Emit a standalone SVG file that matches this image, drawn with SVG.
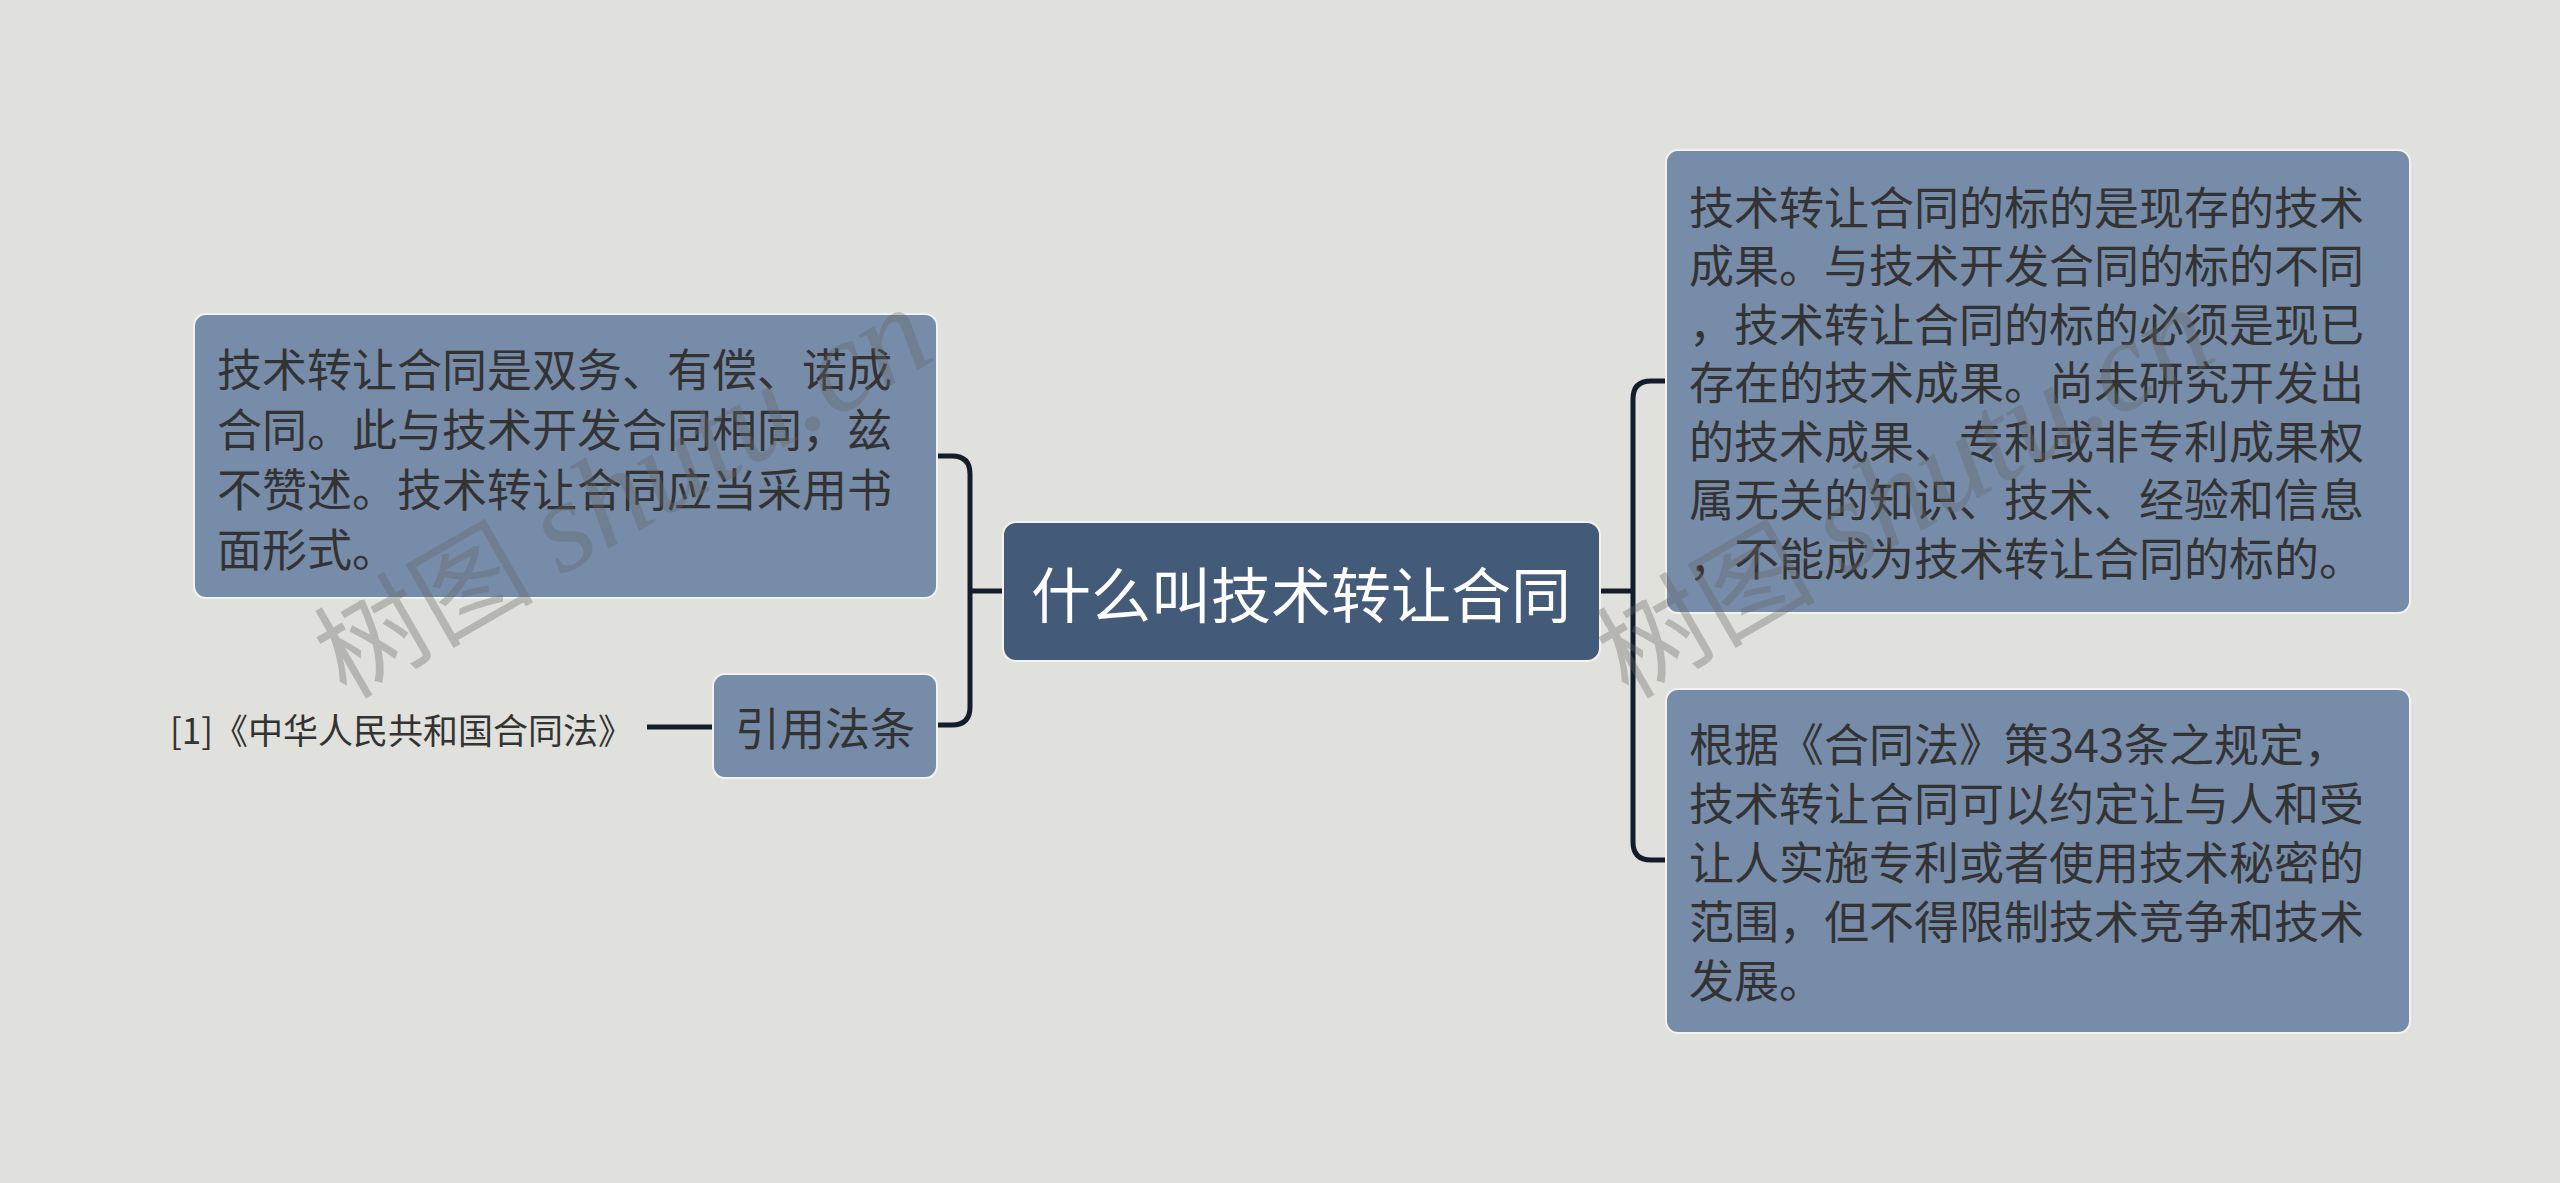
<svg xmlns="http://www.w3.org/2000/svg" width="2560" height="1183" viewBox="0 0 2560 1183">
<style>
.node{fill:#778ca9;stroke:#f2f3f0;stroke-width:2}
.root{fill:#435a79;stroke:#f2f3f0;stroke-width:2}
.t{font-family:"Noto Sans CJK SC","Noto Sans",sans-serif;font-size:45px;fill:#333333;dominant-baseline:central}
.rt{font-family:"Noto Sans CJK SC","Noto Sans",sans-serif;font-size:60px;fill:#ffffff;dominant-baseline:central;text-anchor:middle}
.link{fill:none;stroke:#141d2b;stroke-width:5;stroke-linecap:butt}
.wm{font-family:"Liberation Serif","Noto Sans CJK SC",serif;font-size:110px;fill:#646464;fill-opacity:0.35}
.wm tspan{font-size:130px;font-style:italic}
</style>
<rect width="2560" height="1183" fill="#e0e1dc"/>
<g id="connectors">
<path class="link" d="M1003,591 H970 M937,456 H952 Q970,456 970,474 V707 Q970,725 952,725 H937"/>
<path class="link" d="M713,727 H647"/>
<path class="link" d="M1601,591 H1633 M1666,381 H1651 Q1633,381 1633,399 V842 Q1633,860 1651,860 H1666"/>
</g>
<g id="root">
<rect class="root" x="1003" y="522" width="597" height="139" rx="13"/>
<text class="rt" x="1301" y="591">什么叫技术转让合同</text>
</g>
<g id="node-left-1">
<rect class="node" x="194" y="314" width="743" height="284" rx="12"/>
<text class="t" x="217" y="367">技术转让合同是双务、有偿、诺成</text>
<text class="t" x="217" y="427">合同。此与技术开发合同相同，兹</text>
<text class="t" x="217" y="487">不赞述。技术转让合同应当采用书</text>
<text class="t" x="217" y="547">面形式。</text>
</g>
<g id="node-left-2">
<rect class="node" x="713" y="674" width="224" height="104" rx="12"/>
<text class="t" x="825" y="726" text-anchor="middle">引用法条</text>
</g>
<g id="node-citation">
<text class="t" x="170" y="728" style="font-size:35px">[1]《中华人民共和国合同法》</text>
</g>
<g id="node-right-1">
<rect class="node" x="1666" y="150" width="744" height="463" rx="12"/>
<text class="t" x="1689" y="205">技术转让合同的标的是现存的技术</text>
<text class="t" x="1689" y="263.5">成果。与技术开发合同的标的不同</text>
<text class="t" x="1689" y="322">，技术转让合同的标的必须是现已</text>
<text class="t" x="1689" y="380.5">存在的技术成果。尚未研究开发出</text>
<text class="t" x="1689" y="439">的技术成果、专利或非专利成果权</text>
<text class="t" x="1689" y="497.5">属无关的知识、技术、经验和信息</text>
<text class="t" x="1689" y="556">，不能成为技术转让合同的标的。</text>
</g>
<g id="node-right-2">
<rect class="node" x="1666" y="689" width="744" height="344" rx="12"/>
<text class="t" x="1689" y="742">根据《合同法》策343条之规定，</text>
<text class="t" x="1689" y="801">技术转让合同可以约定让与人和受</text>
<text class="t" x="1689" y="860">让人实施专利或者使用技术秘密的</text>
<text class="t" x="1689" y="919">范围，但不得限制技术竞争和技术</text>
<text class="t" x="1689" y="978">发展。</text>
</g>
<g id="watermark">
<text class="wm" transform="translate(346,700) rotate(-30)">树图 <tspan>shutu.cn</tspan></text>
<text class="wm" transform="translate(1628,700) rotate(-30)">树图 <tspan>shutu.cn</tspan></text>
</g>
</svg>
